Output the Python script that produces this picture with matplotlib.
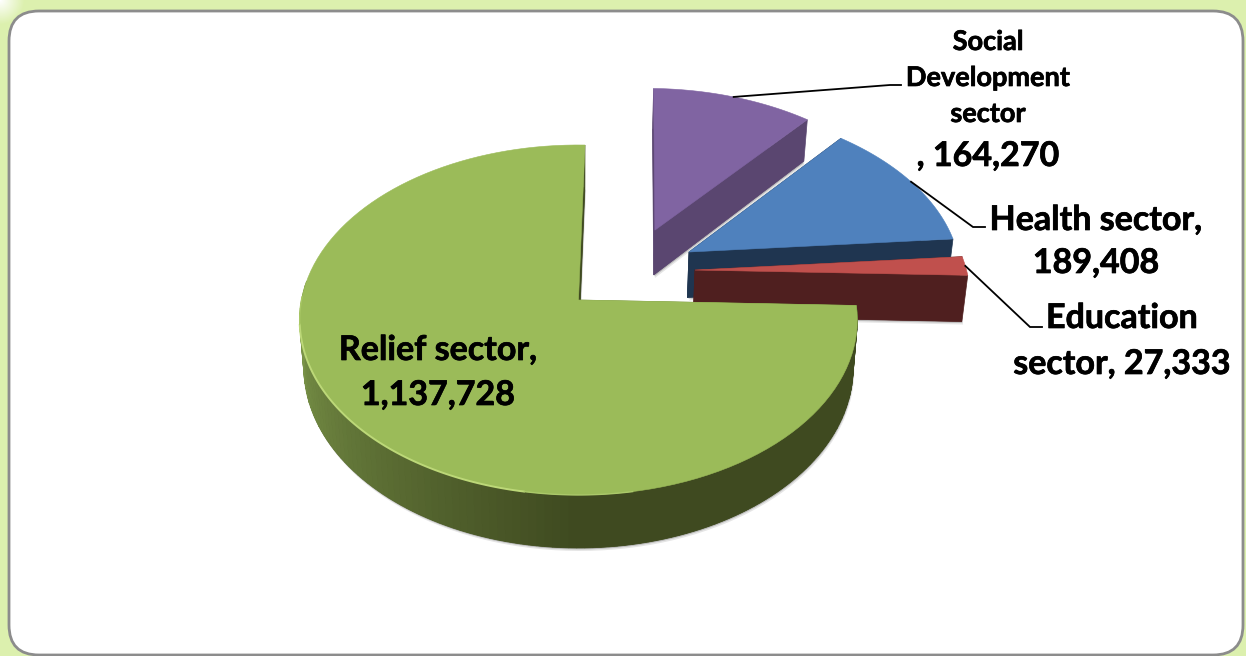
import numpy as np
import matplotlib
matplotlib.use('Agg')
import matplotlib.pyplot as plt
import matplotlib.patheffects as pe
from matplotlib.patches import FancyBboxPatch
from matplotlib.colors import to_rgb

sectors = ['Social\nDevelopment\nsector', 'Health sector', 'Education\nsector', 'Relief sector']
values = [164270, 189408, 27333, 1137728]
top_colors = ['#8064a2', '#4f81bd', '#c0504d', '#9bbb59']
side_colors = ['#5a4670', '#1f3550', '#4f1f1f', '#3f4a20']
explode = [(0.289, 0.424), (0.412, 0.287), (0.429, 0.177), (0.0, 0.0)]

start_angle = 88.5
cx, cy = 578.5, 300
rx, ry = 277, 172.7
persp = 0.114
depth = 47

plt.rcParams['font.family'] = ['Lato', 'DejaVu Sans']


def project(X, Y, z=0.0):
    # plane coords to pixels, z=1 is the underside of the pie
    s = 1 / (1 + persp * Y)
    return cx + rx * X * s * (1 - 0.015 * z), cy - ry * Y * s + depth * z * s


def arc(off, a0, a1, z=0.0, n=120):
    t = np.radians(np.linspace(a0, a1, n))
    return project(off[0] + np.cos(t), off[1] + np.sin(t), z)


def wedge_outline(off, a0, a1, z=0.0):
    x, y = arc(off, a0, a1, z)
    px, py = project(off[0], off[1], z)
    return np.r_[px, x], np.r_[py, y]


def radial_face(ax, off, ang, color):
    t = np.radians(ang)
    ex, ey = off[0] + np.cos(t), off[1] + np.sin(t)
    a, b = project(off[0], off[1]), project(ex, ey)
    c, d = project(ex, ey, 1), project(off[0], off[1], 1)
    ax.fill([a[0], b[0], c[0], d[0]], [a[1], b[1], c[1], d[1]], color=color, lw=0.5, zorder=2)


def rim_color(ang, base):
    # side of the big slice lightens towards the left
    light = np.array(to_rgb('#7f9a4c'))
    dark = np.array(to_rgb(base))
    f = np.clip((-ang - 90) / 90, 0, 1)
    return tuple(dark + (light - dark) * f)


fig = plt.figure(figsize=(12.46, 6.56), dpi=100, facecolor='#dcf0ae')
ax = fig.add_axes([0, 0, 1, 1])

# the green backdrop fades out in the top left corner
yy, xx = np.mgrid[0:24, 0:24]
fade = np.clip(1 - np.hypot(xx, yy) / 24, 0, 1)
corner = np.ones((24, 24, 4))
corner[..., 3] = fade
ax.imshow(corner, extent=(0, 24, 24, 0), aspect='auto', zorder=0)
ax.set_xlim(0, 1246)
ax.set_ylim(656, 0)
ax.axis('off')

# white panel with grey rounded border
panel = FancyBboxPatch((9 + 30, 11 + 30), 1234 - 60, 644 - 60, boxstyle='round,pad=30,rounding_size=30',
                       fc='white', ec='#8c8c8c', lw=2, zorder=1)
ax.add_patch(panel)

total = sum(values)
edges = start_angle - np.r_[0, np.cumsum(values)] / total * 360

for i in range(len(values)):
    a0, a1 = edges[i], edges[i + 1]
    off = explode[i]

    # soft shadow under the slice
    sx, sy = wedge_outline(off, a0, a1, 1)
    for d, al in [(3.0, 0.10), (1.5, 0.18)]:
        ax.fill(sx + d * 0.4, sy + d, color='k', alpha=al, lw=0, zorder=2)
    ax.fill(sx, sy, color=side_colors[i], lw=0, zorder=2)

    radial_face(ax, off, a0, side_colors[i] if i < 3 else '#6f8a3c')
    radial_face(ax, off, a1, side_colors[i])

    # outer wall, only the part facing the viewer
    lo = max(a1, -186)
    if a0 > lo and a0 < 0.5 or i == 3:
        steps = np.arange(min(a0, 0), lo, -1.5)
        for b0 in steps:
            tx, ty = arc(off, b0, b0 - 1.5, 0, 4)
            ux, uy = arc(off, b0, b0 - 1.5, 1, 4)
            c = rim_color(b0, side_colors[i]) if i == 3 else side_colors[i]
            ax.fill(np.r_[tx, ux[::-1]], np.r_[ty, uy[::-1]], color=c, lw=0.6, zorder=2)

    tx, ty = wedge_outline(off, a0, a1)
    ax.fill(tx, ty, color=top_colors[i], lw=0.4, zorder=2)

# bright edge on the front left of the big slice
hx, hy = arc(explode[3], -100, -172)
ax.plot(hx, hy, color='#bcd878', lw=1.4, solid_capstyle='round', zorder=3)
hx, hy = arc(explode[3], -80, -100)
ax.plot(hx, hy, color='#abc96a', lw=1.0, zorder=3)
hx, hy = arc(explode[3], -172, -181)
ax.plot(hx, hy, color='#a9c865', lw=1.0, zorder=3)

# leader lines start at the middle of each slice's arc
elbows = [[(890, 85), (901, 85)], [(973, 227), (985, 227)], [(1030, 327), (1042, 327)]]
for i in range(3):
    mid = np.radians((edges[i] + edges[i + 1]) / 2)
    x0, y0 = project(explode[i][0] + np.cos(mid), explode[i][1] + np.sin(mid))
    ax.plot([x0, elbows[i][0][0], elbows[i][1][0]], [y0, elbows[i][0][1], elbows[i][1][1]],
            color='k', lw=1.3, solid_joinstyle='miter', zorder=3)

big = 24.5
small = 19.5
heavy = [pe.withStroke(linewidth=0.5, foreground='k')]


def label(x, y, txt, size=big):
    ax.text(x, y + 1, txt, ha='center', va='center', fontsize=size, fontweight='bold', color='k',
            path_effects=heavy, zorder=4)


for txt, y in zip(sectors[0].split('\n'), [41, 77, 113]):
    label(988, y, txt, small)
label(988, 155, f', {values[0]:,}')
label(1096, 219, f'{sectors[1]},')
label(1096, 262, f'{values[1]:,}')
edu_lines = sectors[2].split('\n')
label(1122, 317, edu_lines[0])
label(1122, 363, f'{edu_lines[1]}, {values[2]:,}')
label(438, 349, f'{sectors[3]},')
label(438, 394, f'{values[3]:,}')

fig.savefig('out.png', dpi=100, facecolor=fig.get_facecolor())
